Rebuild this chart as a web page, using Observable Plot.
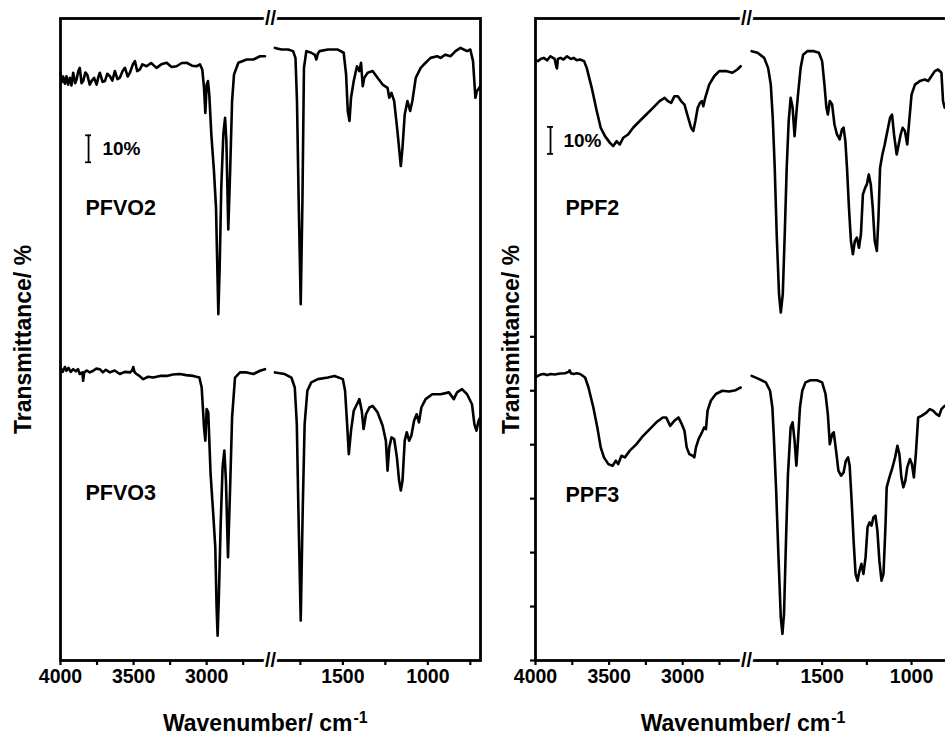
<!DOCTYPE html>
<html><head><meta charset="utf-8">
<script src="https://cdn.jsdelivr.net/npm/d3@7"></script>
<script src="https://cdn.jsdelivr.net/npm/@observablehq/plot@0.6"></script>
<style>
html,body{margin:0;padding:0;background:#fff;}
#wrap{position:relative;width:945px;height:740px;overflow:hidden;background:#fff;}
#left,#right{position:absolute;top:0;height:740px;}
#left{left:0;width:484px;}
#right{left:484px;width:492px;}
#wrap svg{max-width:none !important;}
</style></head>
<body><div id="wrap"><div id="left"></div><div id="right"></div></div>
<script>
// ---- axis definitions ----
const X_DOMAIN = [4000, 2570, 1920, 690];
const MAJOR_TICKS = [4000, 3500, 3000, 1500, 1000];
const MINOR_TICKS = [3750, 3250, 2750, 1750, 1250, 750];
const Y_TICKS = [0, 20, 40, 60, 80, 100, 120];
const Y_DOMAIN = [0, 238];
const BREAK_AT = 2245;

// ---- spectra (wavenumber cm-1, offset transmittance %) ----
const PFVO2_wn = [4000,3990,3982,3970,3959,3948,3936,3925,3913,3900,3890,3878,3868,3856,3845,3830,3817,3800,3788,3770,3753,3740,3731,3712,3696,3680,3662,3645,3628,3610,3594,3575,3559,3540,3525,3505,3491,3475,3457,3440,3411,3380,3343,3310,3274,3240,3206,3170,3137,3100,3069,3046,3030,3018,3009,3000,2991,2982,2968,2950,2936,2927,2920,2911,2900,2886,2874,2865,2852,2840,2826,2813,2783,2726,2680,2635,2601,
  1900,1861,1822,1793,1779,1770,1760,1748,1738,1729,1715,1686,1665,1656,1647,1637,1588,1530,1495,1481,1471,1461,1452,1436,1417,1403,1393,1383,1374,1354,1325,1296,1266,1237,1227,1214,1198,1179,1159,1149,1136,1120,1104,1091,1071,1042,1013,984,945,925,896,867,837,808,789,769,750,734,720,711,700,691];
const PFVO2_t = [217.9,214.5,216.5,213.8,216.6,213.5,216.0,213.2,217.9,214.0,215.4,218.5,219.7,214.0,214.8,218.0,217.2,213.5,214.8,216.0,213.5,216.5,217.9,214.5,214.8,217.5,216.6,215.0,218.5,215.5,216.0,218.5,219.7,216.5,217.9,221.0,222.2,218.5,219.1,221.0,220.3,221.5,219.7,221.0,221.6,220.0,220.3,221.5,221.6,220.5,220.3,221.0,219.1,212.3,203.0,213.5,214.8,209.8,195.0,181.4,167.9,145.6,128.4,145.6,175.3,195.0,201.2,192.5,159.8,180.2,207.4,217.2,221.6,222.8,222.8,224.0,224.0,
  227.1,226.5,226.5,225.9,223.4,207.4,170.3,132.1,170.3,219.7,225.9,225.3,224.5,222.8,225.0,225.9,226.5,226.5,225.3,217.2,203.7,200.0,208.6,214.8,220.3,218.5,221.6,212.9,216.0,217.9,218.5,216.0,213.5,212.3,208.6,210.4,207.4,196.3,183.3,190.1,202.4,207.4,203.7,207.4,216.0,219.7,221.6,223.4,224.0,223.4,224.6,224.0,225.9,227.1,226.5,225.9,226.5,222.2,208.6,211.1,212.0,213.0];

const PFVO3_wn = [4000,3985,3970,3959,3945,3930,3913,3895,3880,3868,3850,3845,3838,3820,3800,3776,3755,3731,3710,3690,3662,3630,3594,3560,3525,3510,3502,3494,3480,3460,3434,3400,3365,3320,3274,3230,3183,3140,3091,3050,3034,3018,3009,3000,2989,2973,2955,2941,2932,2925,2916,2904,2891,2879,2868,2854,2840,2826,2806,2772,2726,2680,2635,2601,
  1900,1842,1803,1783,1771,1762,1748,1736,1725,1709,1686,1647,1588,1549,1500,1487,1475,1465,1452,1436,1417,1403,1389,1378,1364,1344,1325,1296,1266,1247,1237,1227,1214,1198,1182,1169,1159,1149,1136,1124,1110,1097,1081,1066,1052,1038,1013,974,925,876,847,828,799,769,740,726,714,701,691];
const PFVO3_t = [108.6,107.0,108.8,107.4,108.5,107.0,108.0,107.2,108.0,106.2,106.8,103.7,106.8,107.5,106.8,107.4,108.2,108.0,106.8,107.8,106.8,107.5,106.2,107.0,106.8,107.5,108.8,107.0,106.2,105.5,104.3,105.2,104.9,105.5,105.5,106.0,106.2,105.8,105.5,104.9,101.2,86.4,81.5,93.2,92.0,69.1,54.3,42.0,19.7,9.2,24.7,50.6,71.6,77.8,66.6,38.3,63.0,90.1,104.9,106.8,106.8,106.2,107.4,108.0,
  106.8,106.2,104.9,101.2,87.6,56.8,14.8,56.8,87.6,100.0,103.1,104.3,104.9,105.5,104.3,100.0,87.6,76.5,85.2,92.6,95.0,96.9,92.6,85.8,91.3,93.8,94.4,92.0,87.0,81.5,70.4,79.0,82.7,82.1,75.3,66.6,63.0,66.6,81.5,84.6,81.5,83.3,88.9,91.3,88.3,93.8,96.9,98.7,98.7,99.4,96.9,99.4,100.6,98.7,95.0,87.6,85.2,88.9,90.1];

const PPF2_wn = [4000,3984,3965,3944,3920,3899,3870,3858,3854,3848,3831,3810,3786,3760,3741,3720,3697,3670,3652,3618,3584,3557,3528,3494,3472,3449,3427,3404,3371,3337,3292,3247,3202,3157,3123,3101,3078,3056,3033,3011,2988,2966,2943,2928,2914,2898,2883,2869,2860,2847,2820,2786,2752,2707,2662,2629,2606,
  1894,1861,1824,1802,1787,1776,1765,1754,1741,1731,1720,1709,1698,1687,1676,1665,1654,1643,1633,1620,1606,1583,1546,1518,1500,1487,1476,1468,1457,1444,1431,1417,1402,1389,1380,1370,1361,1350,1339,1328,1317,1306,1294,1283,1272,1259,1250,1239,1228,1217,1206,1194,1185,1176,1163,1150,1135,1120,1109,1098,1083,1072,1061,1050,1037,1024,1013,1000,981,954,926,907,889,870,852,833,824,815];
const PPF2_t = [222.5,222.2,223.0,223.4,222.5,224.0,223.0,220.0,219.5,223.0,223.4,222.8,224.0,223.0,223.4,222.5,222.8,222.2,219.7,212.3,203.7,197.5,194.4,191.9,190.7,192.5,191.3,193.8,195.0,197.5,200.0,202.4,204.9,207.4,208.6,207.4,206.7,209.2,209.2,207.4,206.1,201.8,197.5,196.3,200.0,204.9,206.7,207.4,205.5,208.6,213.5,216.6,218.5,218.5,217.9,219.1,220.3,
  225.9,225.3,223.4,219.7,213.5,201.2,182.7,158.0,135.8,129.0,135.8,158.0,182.7,200.0,208.6,204.9,194.4,203.7,211.1,219.7,224.6,225.9,225.9,225.3,222.2,213.5,204.9,202.4,207.4,206.1,198.7,195.0,193.2,196.9,197.5,192.5,182.7,167.9,155.5,150.6,155.5,156.8,153.0,158.0,172.8,175.3,176.5,180.2,176.5,167.9,155.5,151.8,164.2,182.7,187.6,191.3,196.3,201.2,202.4,195.0,187.6,191.3,195.0,197.5,196.3,191.3,200.0,209.8,213.5,214.8,215.4,214.8,216.6,218.5,219.1,217.9,207.4,204.9];

const PPF3_wn = [4000,3984,3965,3944,3920,3899,3870,3831,3800,3775,3768,3760,3741,3720,3697,3663,3640,3607,3580,3557,3535,3505,3476,3454,3438,3416,3393,3359,3314,3269,3224,3179,3135,3112,3085,3056,3029,3006,2988,2973,2955,2932,2921,2910,2892,2869,2854,2842,2831,2809,2775,2730,2685,2640,2606,
  1894,1852,1815,1791,1778,1769,1757,1744,1731,1722,1713,1702,1691,1676,1665,1654,1644,1635,1624,1611,1593,1565,1528,1500,1481,1468,1457,1444,1435,1422,1409,1394,1380,1367,1355,1346,1335,1324,1313,1302,1291,1280,1269,1257,1246,1235,1224,1213,1202,1191,1180,1168,1157,1146,1139,1124,1109,1092,1079,1068,1057,1046,1035,1024,1009,998,987,976,963,944,917,898,880,861,846,833,815];
const PPF3_t = [105.0,105.5,106.0,106.2,105.8,106.2,106.0,106.4,106.5,107.0,107.6,106.5,106.2,106.5,106.2,104.9,101.2,93.8,86.4,79.0,75.3,72.8,72.2,74.1,72.8,75.9,75.3,77.8,80.2,83.3,85.8,88.3,90.1,90.1,87.0,88.9,90.1,87.6,85.2,79.0,76.5,75.9,75.3,79.0,82.1,84.6,86.4,85.8,92.6,96.3,98.8,100.0,99.7,100.2,101.2,
  105.5,104.3,103.1,100.0,93.8,81.5,63.0,38.3,16.0,9.9,17.3,44.4,69.1,86.4,88.3,81.5,72.2,81.5,93.8,100.0,103.1,103.9,103.9,103.1,98.8,91.3,80.2,83.9,84.6,77.8,70.4,68.5,69.7,74.1,75.3,72.2,59.2,44.4,32.1,29.6,33.3,35.8,32.1,38.3,49.4,51.2,50.0,53.1,53.7,48.1,37.0,29.6,32.1,49.4,64.2,67.9,71.0,75.3,79.6,76.5,67.9,64.2,66.6,71.6,74.7,72.8,67.9,76.5,90.1,90.7,91.9,93.2,92.6,91.3,90.7,93.2,94.4];

// ---- annotations (data coordinates) ----
const leftNames = ["PFVO2", "PFVO3"];
const leftNameWn = [3829, 3829];
const leftNameT = [167.6, 61.9];
const rightNames = ["PPF2", "PPF3"];
const rightNameWn = [3796, 3796];
const rightNameT = [167.6, 61.2];
const scaleLabel = "10%";
const scaleSpan = 10;
const leftBar = {wn: 3808, lo: 184.7, textWn: 3713};
const rightBar = {wn: 3898, lo: 187.8, textWn: 3810};
const capHalf = 20;

const FONT = "'Liberation Sans', Arial, Helvetica, sans-serif";

function rowsOf(list) {
  const rows = [];
  for (const s of list) {
    s.wn.forEach((w, i) => rows.push({key: s.name + (w > BREAK_AT ? "-hi" : "-lo"), wn: w, t: s.t[i]}));
  }
  return rows;
}

function panel(cfg) {
  const rows = rowsOf(cfg.series);
  const labels = cfg.names.map((n, i) => ({name: n, wn: cfg.nameWn[i], t: cfg.nameT[i]}));
  const bar = cfg.bar;
  const caps = [bar.lo, bar.lo + scaleSpan].map(v => ({y: v, x1: bar.wn - capHalf, x2: bar.wn + capHalf}));
  const slash = {text: () => "//", textAnchor: "middle", lineAnchor: "middle", fontSize: 20, fontWeight: "bold", fill: "black", stroke: "white", strokeWidth: 5};
  const marks = [
    Plot.frame({stroke: "black", strokeWidth: 2.8}),
    Plot.line(rows, {x: "wn", y: "t", z: "key", stroke: "black", strokeWidth: 2.6, strokeLinejoin: "round"}),
    Plot.axisX({ticks: MAJOR_TICKS, tickFormat: d => String(d), tickSize: 5, tickPadding: 4, strokeWidth: 2.2, fontSize: 19.5, fontWeight: "bold", label: null}),
    Plot.axisX({ticks: MINOR_TICKS, tickSize: 5, tickFormat: () => "", strokeWidth: 2.2, label: null}),
    Plot.text([BREAK_AT], {x: d => d, frameAnchor: "top", ...slash}),
    Plot.text([BREAK_AT], {x: d => d, frameAnchor: "bottom", ...slash}),
    Plot.ruleX([bar], {x: "wn", y1: "lo", y2: d => d.lo + scaleSpan, stroke: "black", strokeWidth: 1.8}),
    Plot.ruleY(caps, {y: "y", x1: "x1", x2: "x2", stroke: "black", strokeWidth: 1.8}),
    Plot.text([bar], {x: "textWn", y: d => d.lo + scaleSpan / 2, text: () => scaleLabel, textAnchor: "start", fontSize: 19, fontWeight: "bold"}),
    Plot.text(labels, {x: "wn", y: "t", text: "name", textAnchor: "start", fontSize: 21.5, fontWeight: "bold"}),
    Plot.text(["Transmittance/ %"], {text: d => d, frameAnchor: "left", textAnchor: "middle", lineAnchor: "middle", rotate: -90, dx: cfg.yLabelDx, fontSize: 23, fontWeight: "bold"}),
    Plot.text(["Wavenumber/ cm"], {text: d => d, frameAnchor: "bottom", textAnchor: "end", lineAnchor: "middle", dx: cfg.xLabelDx, dy: 63, fontSize: 23, fontWeight: "bold"}),
    Plot.text(["-1"], {text: d => d, frameAnchor: "bottom", textAnchor: "start", lineAnchor: "middle", dx: cfg.xLabelDx + 1, dy: 57, fontSize: 16, fontWeight: "bold"})
  ];
  if (cfg.yTicks) marks.push(Plot.axisY({ticks: Y_TICKS, tickSize: 5, tickFormat: () => "", strokeWidth: 2.2, label: null}));
  return Plot.plot({
    width: cfg.width,
    height: 740,
    marginLeft: cfg.marginLeft,
    marginRight: cfg.marginRight,
    marginTop: 18,
    marginBottom: 80,
    style: {fontFamily: FONT, fontSize: "19.5px", fontWeight: "bold", background: "white", color: "black", maxWidth: "none"},
    x: {type: "linear", domain: X_DOMAIN, range: cfg.range, axis: null},
    y: {type: "linear", domain: Y_DOMAIN, axis: null},
    marks
  });
}

document.getElementById("left").append(panel({
  width: 484, marginLeft: 60, marginRight: 4,
  range: [60, 269, 271, 480],
  series: [{name: "PFVO2", wn: PFVO2_wn, t: PFVO2_t}, {name: "PFVO3", wn: PFVO3_wn, t: PFVO3_t}],
  names: leftNames, nameWn: leftNameWn, nameT: leftNameT,
  bar: leftBar, yTicks: false, yLabelDx: -37, xLabelDx: 82
}));

document.getElementById("right").append(panel({
  width: 492, marginLeft: 51, marginRight: 9.5,
  range: [51, 261.5, 262.5, 482.5],
  series: [{name: "PPF2", wn: PPF2_wn, t: PPF2_t}, {name: "PPF3", wn: PPF3_wn, t: PPF3_t}],
  names: rightNames, nameWn: rightNameWn, nameT: rightNameT,
  bar: rightBar, yTicks: true, yLabelDx: -23.5, xLabelDx: 79
}));
</script>
</body></html>
